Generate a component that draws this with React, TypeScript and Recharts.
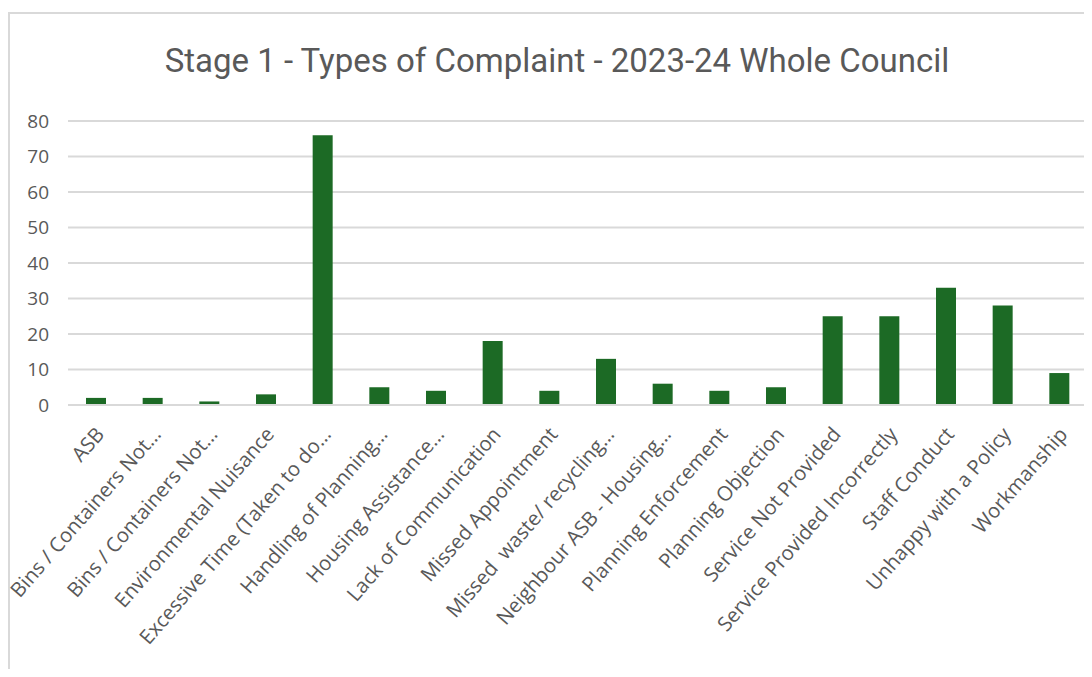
import { BarChart, Bar, XAxis, YAxis, CartesianGrid } from "recharts";

const categories = [
  "ASB",
  "Bins / Containers Not…",
  "Bins / Containers Not…",
  "Environmental Nuisance",
  "Excessive Time (Taken to do…",
  "Handling of Planning…",
  "Housing Assistance…",
  "Lack of Communication",
  "Missed Appointment",
  "Missed  waste/ recycling…",
  "Neighbour ASB - Housing…",
  "Planning Enforcement",
  "Planning Objection",
  "Service Not Provided",
  "Service Provided Incorrectly",
  "Staff Conduct",
  "Unhappy with a Policy",
  "Workmanship",
];

const complaints = [2, 2, 1, 3, 76, 5, 4, 18, 4, 13, 6, 4, 5, 25, 25, 33, 28, 9];

const yTicks = [0, 10, 20, 30, 40, 50, 60, 70, 80];

const data = categories.map((name, i) => ({ name, count: complaints[i] }));

const titleFont = "Roboto, 'Noto Sans', sans-serif";
const labelFont = "'Open Sans', 'Noto Sans', sans-serif";
const textColor = "#595959";
const gridColor = "#d9d9d9";

function AngledTick(props: any) {
  const { x, y, payload } = props;
  const ax = x + 9;
  const ay = y + 22;
  return (
    <text
      x={ax}
      y={ay}
      transform={`rotate(-49, ${ax}, ${ay})`}
      textAnchor="end"
      fill={textColor}
      fontSize={20.3}
      fontFamily={labelFont}
      style={{ whiteSpace: "pre" }}
    >
      {payload.value}
    </text>
  );
}

export default function App() {
  return (
    <div
      style={{
        position: "relative",
        width: 1084,
        height: 661,
        background: "#fff",
      }}
    >
      <style>{"svg.recharts-surface { overflow: visible; }"}</style>
      <div
        style={{
          position: "absolute",
          left: 0,
          top: 4,
          width: 1084,
          height: 665,
          boxSizing: "border-box",
          borderLeft: `2px solid ${gridColor}`,
          borderTop: `2px solid ${gridColor}`,
        }}
      />
      <div
        style={{
          position: "absolute",
          left: 0,
          top: 33,
          width: 1084,
          textAlign: "center",
          fontFamily: titleFont,
          fontSize: 33,
          color: textColor,
          lineHeight: "40px",
          paddingLeft: 14,
          boxSizing: "border-box",
        }}
      >
        Stage 1 - Types of Complaint - 2023-24 Whole Council
      </div>
      <BarChart
        width={1084}
        height={661}
        data={data}
        margin={{ top: 113, right: 4, left: 0, bottom: 8 }}
      >
        <CartesianGrid vertical={false} stroke={gridColor} strokeWidth={2} />
        <XAxis
          dataKey="name"
          interval={0}
          tickLine={false}
          axisLine={{ stroke: gridColor, strokeWidth: 2 }}
          height={256}
          tick={<AngledTick />}
        />
        <YAxis
          domain={[0, 80]}
          ticks={yTicks}
          width={60}
          tickLine={false}
          axisLine={false}
          tickMargin={13}
          tick={{ fill: textColor, fontSize: 19, fontFamily: labelFont }}
        />
        <Bar dataKey="count" fill="#1c6a25" barSize={20} isAnimationActive={false} />
      </BarChart>
    </div>
  );
}
